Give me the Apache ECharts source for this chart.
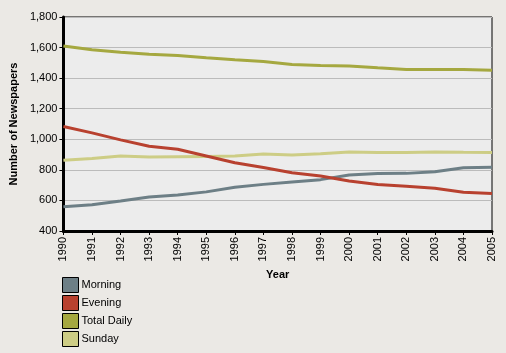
<!DOCTYPE html>
<html><head><meta charset="utf-8">
<script src="https://cdn.jsdelivr.net/npm/echarts@6/dist/echarts.min.js"></script>
<style>html,body{margin:0;padding:0;background:#ebe9e5;}#c{width:506px;height:353px;}</style>
</head><body><div id="c"></div>
<script>
const years = ['1990','1991','1992','1993','1994','1995','1996','1997','1998','1999','2000','2001','2002','2003','2004','2005'];
const morning = [559,571,596,623,635,656,686,705,721,736,766,776,777,787,814,817];
const evening = [1084,1042,996,954,935,891,846,816,781,760,727,704,692,680,653,645];
const totalDaily = [1611,1586,1570,1556,1548,1533,1520,1509,1489,1483,1480,1468,1457,1456,1457,1452];
const sunday = [863,875,891,884,886,888,890,903,898,905,917,913,913,917,915,914];
const seriesNames = ['Morning','Evening','Total Daily','Sunday'];
const colors = ['#6d7f86','#b8412f','#a5a840','#cdcd85'];
const yTicks = {min:400, max:1800, interval:200};

const font = 'Liberation Sans, Arial, sans-serif';
const chart = echarts.init(document.getElementById('c'));
const data = [morning, evening, totalDaily, sunday];
chart.setOption({
  backgroundColor:'#ebe9e5',
  animation:false,
  color: colors,
  grid:{left:62, top:17, right:14, bottom:122, show:true, backgroundColor:'#ececec', borderColor:'#000', borderWidth:1},
  legend:{
    orient:'vertical', left:62, top:277, height:80, padding:0, itemWidth:16, itemHeight:15, itemGap:2,
    icon:'rect', data: seriesNames,
    itemStyle:{borderColor:'#000', borderWidth:1},
    textStyle:{fontFamily:font, fontSize:11, color:'#000', padding:[0,0,0,-2]}
  },
  xAxis:{
    type:'category', data:years, boundaryGap:false,
    name:'Year', nameLocation:'middle', nameGap:33,
    nameTextStyle:{fontFamily:font, fontSize:11, fontWeight:'bold', color:'#000'},
    axisLine:{lineStyle:{color:'#000', width:3}},
    axisTick:{show:true, length:4, lineStyle:{color:'#000', width:1}},
    axisLabel:{rotate:90, fontFamily:font, fontSize:11, color:'#000', margin:6},
    splitLine:{show:false}
  },
  yAxis:{
    type:'value', min:yTicks.min, max:yTicks.max, interval:yTicks.interval,
    name:'Number of Newspapers', nameLocation:'middle', nameGap:36,
    nameTextStyle:{fontFamily:font, fontSize:11, fontWeight:'bold', color:'#000'},
    axisLine:{show:true, lineStyle:{color:'#000', width:3}},
    axisTick:{show:true, length:4, lineStyle:{color:'#000', width:1}},
    axisLabel:{fontFamily:font, fontSize:11, color:'#000', margin:6,
      formatter:v=>v.toLocaleString('en-US')},
    splitLine:{lineStyle:{color:'#bbbbbb', width:1}}
  },
  series: seriesNames.map((n,i)=>({
    name:n, type:'line', data:data[i], showSymbol:false, symbol:'none',
    lineStyle:{width:3, color:colors[i]}, itemStyle:{color:colors[i]}, z:3+(i===1?1:0)
  }))
});
</script></body></html>
